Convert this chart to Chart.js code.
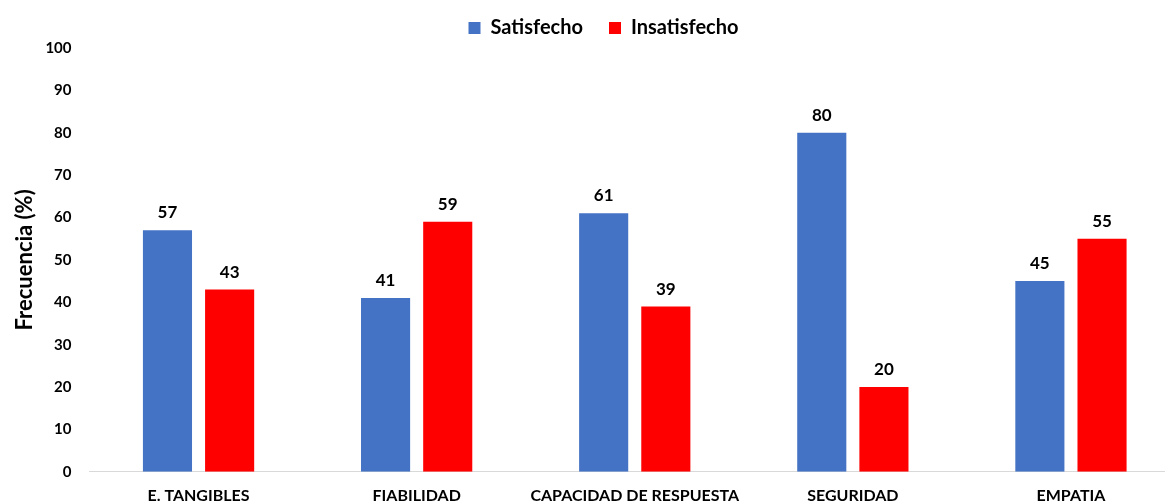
<!DOCTYPE html>
<html>
<head>
<meta charset="utf-8">
<script src="https://cdn.jsdelivr.net/npm/chart.js@4"></script>
<style>
  html, body { margin: 0; padding: 0; background: #fff; overflow: hidden; }
  #wrap { width: 1180px; height: 504px; position: relative; }
</style>
</head>
<body>
<div id="wrap"><canvas id="myChart"></canvas></div>
<script>
var categorias = ['E. TANGIBLES', 'FIABILIDAD', 'CAPACIDAD DE RESPUESTA', 'SEGURIDAD', 'EMPATIA'];
var satisfecho = [57, 41, 61, 80, 45];
var insatisfecho = [43, 59, 39, 20, 55];
var ticksY = [0, 10, 20, 30, 40, 50, 60, 70, 80, 90, 100];

var fuente = 'Lato, "Open Sans", sans-serif';

// etiquetas encima de cada barra
var etiquetas = {
  id: 'etiquetas',
  afterDatasetsDraw: function (chart) {
    var ctx = chart.ctx;
    ctx.save();
    ctx.font = 'bold 17px ' + fuente;
    ctx.fillStyle = '#000';
    ctx.textAlign = 'center';
    ctx.textBaseline = 'bottom';
    chart.data.datasets.forEach(function (ds, i) {
      chart.getDatasetMeta(i).data.forEach(function (bar, j) {
        ctx.fillText(ds.data[j], bar.x, bar.y - 9);
      });
    });
    ctx.restore();
  }
};

const ctx = document.getElementById('myChart').getContext('2d');
const myChart = new Chart(ctx, {
  type: 'bar',
  data: {
    labels: categorias,
    datasets: [{
      label: 'Satisfecho',
      data: satisfecho,
      backgroundColor: '#4472c4',
      barPercentage: 0.79,
      categoryPercentage: 0.57
    }, {
      label: 'Insatisfecho',
      data: insatisfecho,
      backgroundColor: '#ff0000',
      barPercentage: 0.79,
      categoryPercentage: 0.57
    }]
  },
  options: {
    responsive: true,
    maintainAspectRatio: false,
    animation: false,
    layout: { padding: { left: 27, right: 0, top: -8, bottom: -15 } },
    plugins: {
      legend: {
        position: 'top',
        labels: {
          boxWidth: 12,
          boxHeight: 12,
          padding: 26,
          color: '#000',
          font: { family: fuente, size: 20, weight: 'bold' }
        }
      },
      tooltip: { enabled: false }
    },
    scales: {
      x: {
        grid: { display: false, drawTicks: false },
        border: { display: true, color: '#d9d9d9', width: 1 },
        ticks: {
          color: '#000',
          padding: 14,
          font: { family: fuente, size: 16, weight: 'bold' }
        }
      },
      y: {
        min: 0,
        max: 100,
        afterBuildTicks: function (axis) {
          axis.ticks = ticksY.map(function (v) { return { value: v }; });
        },
        grid: { display: false, drawTicks: false },
        border: { display: false },
        ticks: {
          color: '#000',
          padding: 18,
          font: { family: fuente, size: 15, weight: 'bold' }
        },
        title: {
          display: true,
          text: 'Frecuencia (%)',
          color: '#000',
          padding: { top: -15, bottom: -11 },
          font: { family: fuente, size: 22, weight: 'bold' }
        }
      }
    }
  },
  plugins: [etiquetas]
});
</script>
</body>
</html>
